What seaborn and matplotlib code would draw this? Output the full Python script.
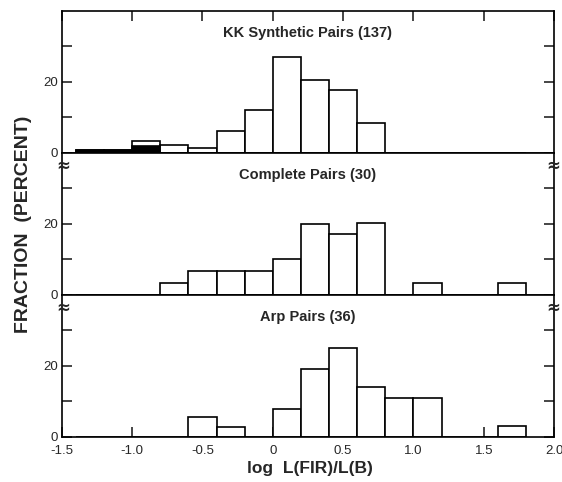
import numpy as np
import pandas as pd
import matplotlib
matplotlib.use("Agg")
import matplotlib.pyplot as plt
import seaborn as sns

# ---- data (percent per 0.2-dex bin) ----
bin_left = [-1.4, -1.2, -1.0, -0.8, -0.6, -0.4, -0.2, 0.0, 0.2, 0.4, 0.6, 0.8, 1.0, 1.2, 1.4, 1.6]
kk_total = [0.73, 0.73, 3.4, 2.2, 1.4, 6.1, 12.0, 26.9, 20.7, 17.7, 8.4, 0, 0, 0, 0, 0]
kk_black = [0.73, 0.73, 1.9, 0, 0, 0, 0, 0, 0, 0, 0, 0, 0, 0, 0, 0]
complete = [0, 0, 0, 3.3, 6.7, 6.7, 6.7, 10.0, 20.0, 17.3, 20.3, 0, 3.3, 0, 0, 3.3]
arp = [0, 0, 0, 0, 5.7, 2.7, 0, 7.8, 19.2, 25.1, 14.1, 11.0, 11.0, 0, 0, 3.1]
titles = ["KK Synthetic Pairs (137)", "Complete Pairs (30)", "Arp Pairs (36)"]
xticks = [-1.5, -1.0, -0.5, 0, 0.5, 1.0, 1.5, 2.0]
xticklabels = ["-1.5", "-1.0", "-0.5", "0", "0.5", "1.0", "1.5", "2.0"]

sns.set_style("ticks")
plt.rcParams['font.family'] = ['Liberation Sans', 'DejaVu Sans']

width = 0.2
edges = [float(v) for v in bin_left] + [bin_left[-1] + width]
centers = [v + width / 2 for v in bin_left]

fig = plt.figure(figsize=(5.62, 4.82), dpi=100)
left, w = 0.110, 0.876
h = 0.2946
b0 = 0.0934
axes = [fig.add_axes([left, b0 + 2 * h, w, h]),
        fig.add_axes([left, b0 + h, w, h]),
        fig.add_axes([left, b0, w, h])]

series = [kk_total, complete, arp]
lw = 1.2
for i, (ax, vals, title) in enumerate(zip(axes, series, titles)):
    df = pd.DataFrame({"x": centers, "w": vals})
    sns.histplot(data=df, x="x", weights="w", bins=edges, ax=ax, color="white",
                 edgecolor="black", linewidth=lw, alpha=1, stat="count")
    if i == 0:
        dfb = pd.DataFrame({"x": centers, "w": kk_black})
        sns.histplot(data=dfb, x="x", weights="w", bins=edges, ax=ax, color="black",
                     edgecolor="black", linewidth=lw, alpha=1, stat="count")
    ax.set_xlim(-1.5, 2.0)
    ax.set_ylim(0, 40)
    ax.set_ylabel("")
    ax.set_xlabel("")
    ax.set_yticks([0, 10, 20, 30], ["0", "", "20", ""])
    ax.set_xticks(xticks)
    for s in ax.spines.values():
        s.set_linewidth(lw)
        s.set_color("black")
        s.set_visible(True)
    ax.tick_params(axis="y", direction="in", left=True, right=True, length=7,
                   width=lw, labelsize=9.5, pad=3)
    if i == 0:
        ax.tick_params(axis="x", direction="in", top=True, bottom=False,
                       labelbottom=False, length=7, width=lw)
    elif i == 1:
        ax.tick_params(axis="x", top=False, bottom=False, labelbottom=False)
    else:
        ax.tick_params(axis="x", direction="in", top=False, bottom=True,
                       length=7, width=lw, labelsize=9.5, pad=6)
        ax.set_xticklabels(xticklabels)
    ax.text(0.5, 0.845, title, transform=ax.transAxes, ha="center", va="center",
            fontsize=10.5, fontweight="bold")

# break marks
for yb in [1 - 166 / 482, 1 - 308 / 482]:
    for xb in [0.113, 0.985]:
        fig.text(xb, yb, "\u2248", ha="center", va="center", fontsize=12,
                 fontweight="bold", family=["DejaVu Sans"])

fig.text(0.042, 0.535, "FRACTION  (PERCENT)", rotation=90, ha="center", va="center",
         fontsize=14, fontweight="bold")
fig.text(0.552, 0.027, "log  L(FIR)/L(B)", ha="center", va="center",
         fontsize=12.5, fontweight="bold")

fig.savefig("out.png", dpi=100)
